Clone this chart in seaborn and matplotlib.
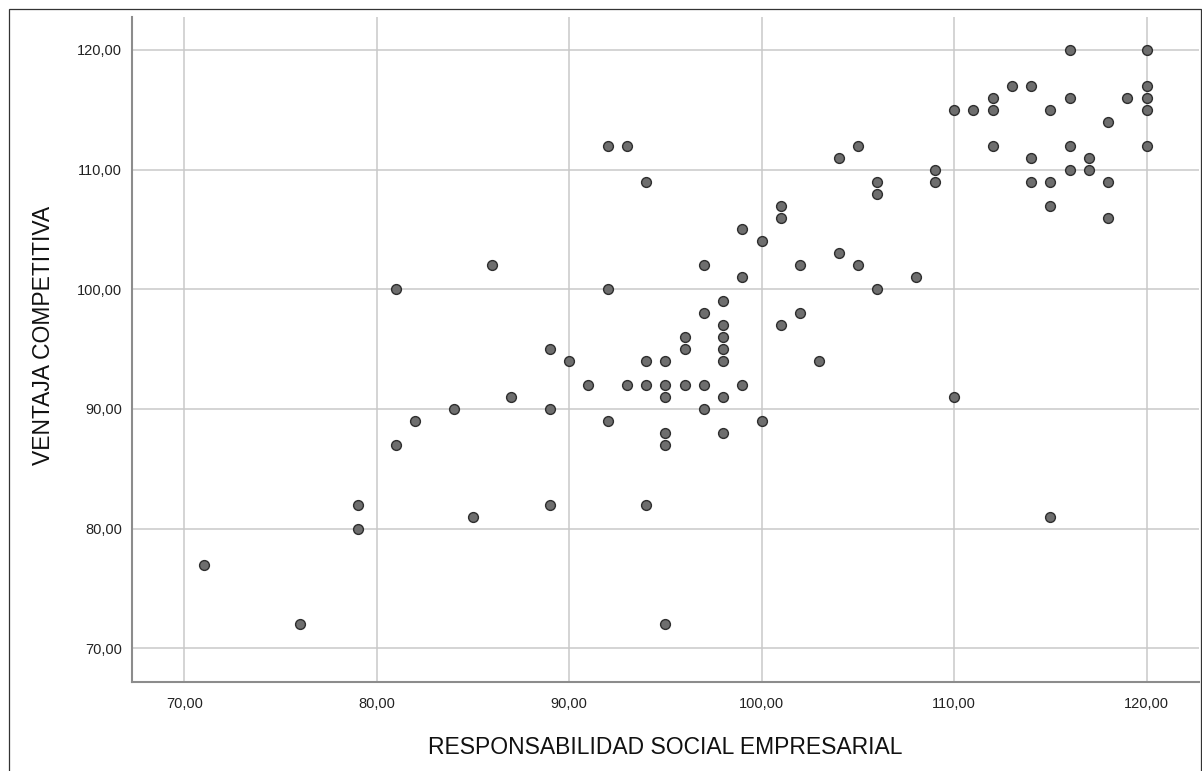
import matplotlib
matplotlib.use("Agg")
import matplotlib.pyplot as plt
import seaborn as sns
import pandas as pd
from matplotlib.patches import Rectangle

# Data
rse = [71, 76, 79, 79, 81, 81, 82, 84, 85, 86, 87, 89, 89, 89, 90, 91,
       92, 92, 92, 93, 93, 94, 94, 94, 94, 95, 95, 95, 95, 95, 95,
       96, 96, 96, 97, 97, 97, 97, 98, 98, 98, 98, 98, 98, 98,
       99, 99, 99, 100, 100, 101, 101, 101, 102, 102, 103, 104, 104,
       105, 105, 106, 106, 106, 108, 109, 109, 110, 110, 111,
       112, 112, 112, 113, 114, 114, 114, 115, 115, 115, 115,
       116, 116, 116, 116, 117, 117, 118, 118, 118, 119,
       120, 120, 120, 120, 120]
ventaja = [77, 72, 82, 80, 100, 87, 89, 90, 81, 102, 91, 95, 90, 82, 94, 92,
           112, 100, 89, 112, 92, 109, 94, 92, 82, 94, 92, 91, 88, 87, 72,
           96, 95, 92, 102, 98, 92, 90, 99, 97, 96, 95, 94, 91, 88,
           105, 101, 92, 104, 89, 107, 106, 97, 102, 98, 94, 111, 103,
           112, 102, 109, 108, 100, 101, 110, 109, 115, 91, 115,
           116, 115, 112, 117, 117, 111, 109, 115, 109, 107, 81,
           120, 116, 112, 110, 111, 110, 114, 109, 106, 116,
           120, 117, 116, 115, 112]
ticks = [70, 80, 90, 100, 110, 120]
tick_labels = ["70,00", "80,00", "90,00", "100,00", "110,00", "120,00"]

df = pd.DataFrame({"RSE": rse, "VC": ventaja})

sns.set_style("white")
plt.rcParams['font.family'] = ['Liberation Sans', 'DejaVu Sans']

fig = plt.figure(figsize=(12.02, 7.71), dpi=100)
ax = fig.add_axes([0.1096, 0.1158, 0.9975 - 0.1096, 0.9783 - 0.1158])

sns.scatterplot(data=df, x="RSE", y="VC", ax=ax, s=50, color="#6e6e6e",
                edgecolor="#2e2e2e", linewidth=1.0, zorder=3)

ax.set_xlim(67.27, 122.72)
ax.set_ylim(67.21, 122.78)
ax.set_xticks(ticks)
ax.set_xticklabels(tick_labels)
ax.set_yticks(ticks)
ax.set_yticklabels(tick_labels)
ax.tick_params(axis="both", length=0, labelsize=10.5, colors="#222222")
ax.tick_params(axis="x", pad=11)
ax.tick_params(axis="y", pad=7)

ax.grid(True, color="#c9c9c9", linewidth=1.1, zorder=0)
ax.set_axisbelow(True)

for side in ["top", "right"]:
    ax.spines[side].set_visible(False)
for side in ["left", "bottom"]:
    ax.spines[side].set_color("#8c8c8c")
    ax.spines[side].set_linewidth(1.5)

ax.set_xlabel("RESPONSABILIDAD SOCIAL EMPRESARIAL", fontsize=16.5,
              color="#111111", labelpad=18)
ax.set_ylabel("VENTAJA COMPETITIVA", fontsize=16.5, color="#111111",
              labelpad=15.5)
ax.yaxis.label.set_y(0.521)

# outer frame like the SPSS chart border
fig.patches.append(Rectangle((9 / 1202, -0.01), (1200.5 - 9) / 1202,
                             1 - 9 / 771 + 0.01, transform=fig.transFigure,
                             fill=False, edgecolor="#333333", linewidth=0.9))

fig.savefig("out.png", dpi=100)
